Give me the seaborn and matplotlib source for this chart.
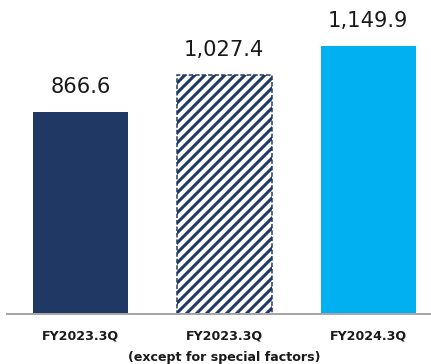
import matplotlib
matplotlib.use("Agg")
import matplotlib.pyplot as plt
import seaborn as sns
import pandas as pd

# Data
categories = ["FY2023.3Q", "FY2023.3Q (except for special factors)", "FY2024.3Q"]
tick_labels = ["FY2023.3Q", "FY2023.3Q", "FY2024.3Q"]
sub_label = "(except for special factors)"
values = [866.6, 1027.4, 1149.9]
value_labels = ["866.6", "1,027.4", "1,149.9"]

navy = "#1F3864"
light_blue = "#00B0F0"
colors = [navy, "#FFFFFF", light_blue]

sns.set_theme(style="white")
plt.rcParams["font.family"] = ["DejaVu Sans"]
plt.rcParams["hatch.linewidth"] = 1.8

DPI = 120
fig = plt.figure(figsize=(431 / DPI, 364 / DPI), dpi=DPI)
ax = fig.add_axes([7 / 431, (364 - 313.5) / 364, (431 - 7) / 431, 313.5 / 364])

df = pd.DataFrame({"cat": categories, "val": values})
sns.barplot(data=df, x="cat", y="val", hue="cat", palette=colors,
            width=0.661, legend=False, ax=ax, saturation=1, linewidth=0)

bars = ax.patches
hb = bars[1]
hb.set_facecolor("white")
hb.set_edgecolor(navy)
hb.set_hatch("////")
hb.set_linewidth(0.9)
hb.set_linestyle((0, (3, 1.3)))

for i, (v, lab) in enumerate(zip(values, value_labels)):
    ax.annotate(lab, xy=(i, v), xytext=(0, 9), textcoords="offset points",
                ha="center", va="bottom", fontsize=12.6, color="#1a1a1a")

ax.set_xlim(-0.511, 2.438)
ax.set_ylim(0, 1348.4)
ax.set_xticks(range(len(tick_labels)))
ax.set_xticklabels(tick_labels, fontsize=7.6, fontweight="bold", color="#1a1a1a")
ax.tick_params(axis="x", length=0, pad=9.4)
ax.set_yticks([])
ax.set_xlabel("")
ax.set_ylabel("")
for s in ["top", "right", "left"]:
    ax.spines[s].set_visible(False)
ax.spines["bottom"].set_color("#A6A6A6")
ax.spines["bottom"].set_linewidth(1.2)

ax.annotate(sub_label, xy=(1, 0), xycoords=("data", "axes fraction"),
            xytext=(0, -22.8), textcoords="offset points",
            ha="center", va="top", fontsize=7.6, fontweight="bold", color="#1a1a1a",
            annotation_clip=False)

fig.savefig("out.png", dpi=DPI)
